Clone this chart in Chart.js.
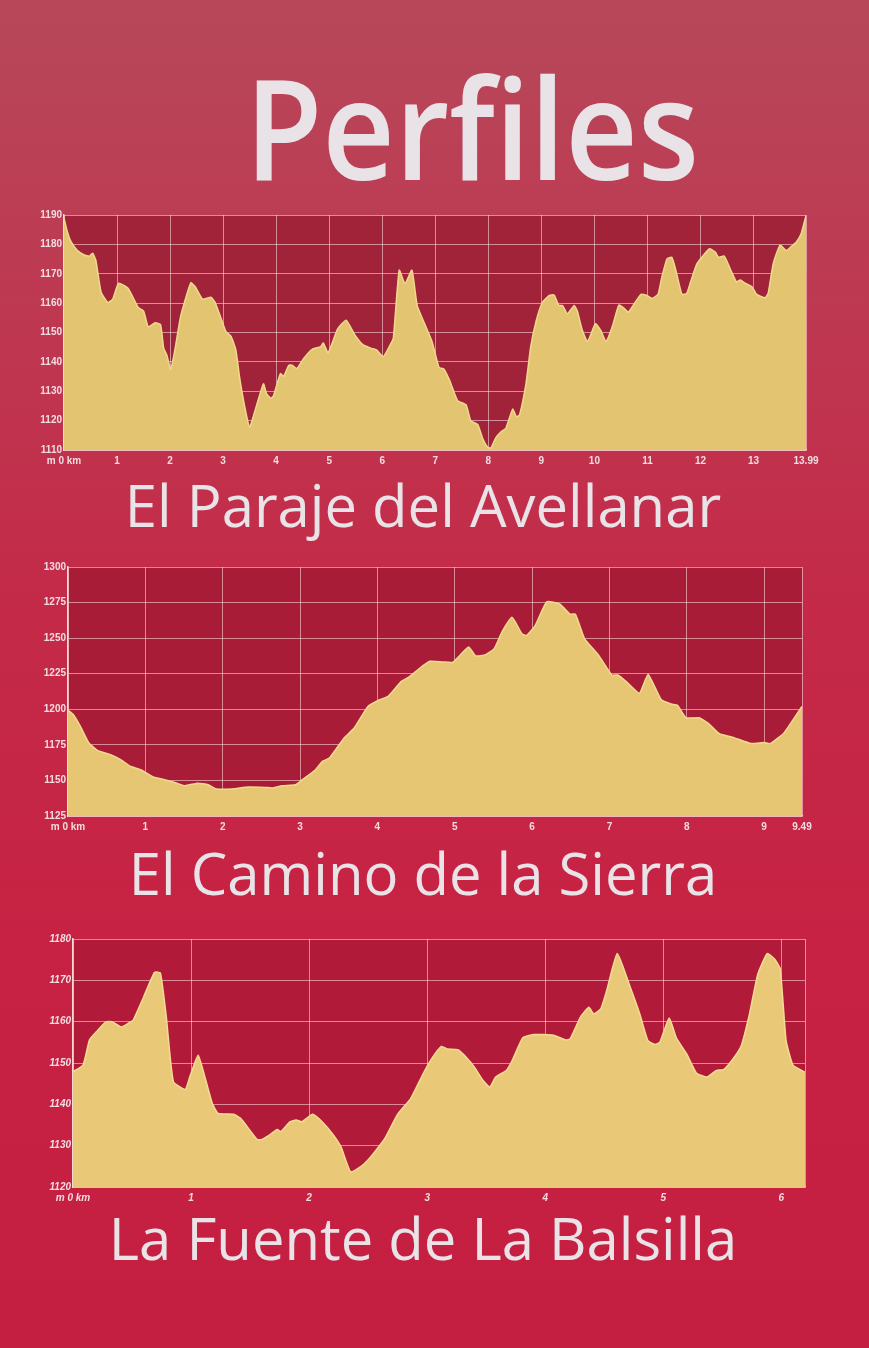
<!DOCTYPE html>
<html>
<head>
<meta charset="utf-8">
<script src="https://cdn.jsdelivr.net/npm/chart.js@4.4.1/dist/chart.umd.min.js"></script>
<style>
  html, body { margin: 0; padding: 0; }
  body {
    width: 869px; height: 1348px; position: relative; overflow: hidden;
    background: linear-gradient(180deg, #b7485a 0%, #bd3a52 20%, #c42a48 45%, #c72243 70%, #c41e40 100%);
    font-family: "Open Sans", "Noto Sans", sans-serif;
  }
  .t { position: absolute; color: #e9e3e8; white-space: nowrap; line-height: 1; font-variant-ligatures: none; }
  #title { font-size: 140px; font-weight: 600; letter-spacing: 0; top: 56px; left: 0; width: 944px; text-align: center; transform: scaleX(0.9); transform-origin: 472px 50%; }
  .sub { font-size: 58px; font-weight: 400; left: 0; width: 846px; text-align: center; }
  canvas { position: absolute; left: 0; }
</style>
</head>
<body>
<div id="title" class="t">Perfiles</div>
<div class="t sub" style="top:476px">El Paraje del Avellanar</div>
<div class="t sub" style="top:844px">El Camino de la Sierra</div>
<div class="t sub" style="top:1209px">La Fuente de La Balsilla</div>

<div style="position:absolute;left:0;top:207px;width:869px;height:265px"><canvas id="c1"></canvas></div>
<div style="position:absolute;left:0;top:559px;width:869px;height:279px"><canvas id="c2"></canvas></div>
<div style="position:absolute;left:0;top:931px;width:869px;height:278px"><canvas id="c3"></canvas></div>

<script>
// ---------- Data: El Paraje del Avellanar ----------
const dist1 = [0,0.06,0.13,0.25,0.38,0.48,0.54,0.6,0.7,0.83,0.92,1.03,1.21,1.4,1.5,1.59,1.72,1.82,1.88,1.94,2.01,2.09,2.2,2.39,2.48,2.61,2.77,2.85,2.99,3.06,3.15,3.24,3.31,3.41,3.5,3.6,3.76,3.82,3.9,3.95,4.08,4.14,4.24,4.3,4.39,4.52,4.68,4.84,4.89,4.98,5.16,5.32,5.48,5.64,5.8,5.89,6.02,6.15,6.21,6.32,6.43,6.56,6.66,6.82,6.94,7.07,7.16,7.27,7.42,7.58,7.67,7.8,7.89,7.99,8.05,8.14,8.24,8.33,8.46,8.53,8.59,8.71,8.8,8.9,9.02,9.15,9.24,9.33,9.4,9.49,9.62,9.68,9.77,9.87,10.02,10.12,10.22,10.34,10.46,10.55,10.64,10.74,10.88,10.99,11.09,11.2,11.27,11.37,11.46,11.53,11.65,11.74,11.81,11.93,12.06,12.17,12.28,12.34,12.45,12.59,12.68,12.75,12.84,12.97,13.06,13.22,13.28,13.37,13.5,13.62,13.72,13.81,13.9,13.99];
const elev1 = [1189,1184.5,1181,1178,1176.4,1176,1177,1174.6,1163.7,1160.2,1161.4,1166.8,1165,1158.5,1157.3,1151.9,1153.3,1152.7,1144.6,1142.3,1137.4,1144,1155.6,1166.9,1165.4,1161.4,1162,1160.2,1153.3,1150.1,1148.7,1144.1,1134.8,1124.5,1117.8,1123.3,1132.5,1129.1,1127.6,1128.5,1136,1135.1,1138.9,1138.9,1137.7,1141.2,1144.3,1145.2,1146.4,1143.1,1151.2,1154.2,1149.3,1145.8,1144.6,1144.1,1141.8,1145.8,1148.1,1171.2,1166.6,1171.2,1159.1,1152.1,1146.9,1138.1,1137.6,1133.7,1126.8,1125.4,1119.9,1118.7,1114.1,1110.9,1110.7,1114.1,1116.2,1117.4,1123.9,1121.3,1122,1132.5,1145.2,1153.8,1160.3,1162.6,1162.8,1159.2,1159.2,1156.4,1159.2,1157.2,1150.9,1146.9,1153,1150.7,1146.9,1152.1,1159.3,1158.4,1156.9,1159.5,1163,1162.6,1161.6,1163,1168.7,1175.1,1175.6,1171.6,1163,1163.3,1167,1173.3,1176.4,1178.5,1177.4,1175.6,1176,1170.5,1167.2,1167.9,1166.8,1165.6,1163,1161.8,1163.6,1173.3,1179.7,1177.9,1179.4,1180.8,1183.7,1189.8];
const xTicks1 = [0,1,2,3,4,5,6,7,8,9,10,11,12,13,13.99];
const xLabels1 = ["m 0 km","1","2","3","4","5","6","7","8","9","10","11","12","13","13.99"];
const yRange1 = [1110, 1190, 10];

// ---------- Data: El Camino de la Sierra ----------
const dist2 = [0,0.07,0.16,0.27,0.38,0.55,0.68,0.81,0.94,1.1,1.25,1.38,1.51,1.68,1.81,1.92,2.12,2.33,2.55,2.64,2.77,2.94,3.03,3.2,3.29,3.38,3.57,3.7,3.88,4.03,4.14,4.31,4.42,4.55,4.68,4.84,4.97,5.06,5.18,5.27,5.4,5.51,5.61,5.74,5.87,5.93,6.04,6.19,6.36,6.49,6.56,6.68,6.86,7.03,7.11,7.24,7.39,7.5,7.67,7.8,7.88,7.99,8.16,8.27,8.42,8.61,8.83,9.0,9.08,9.26,9.49];
const elev2 = [1199.3,1196.2,1188,1176.3,1171.1,1168,1164.6,1159.9,1157.5,1152.4,1150.5,1148.6,1146.3,1148.1,1147,1144,1144,1145.4,1145.1,1144.7,1146.3,1147,1150.5,1157.5,1163.4,1165.7,1179.8,1186.8,1202.1,1206.7,1209.1,1219.6,1223.1,1229,1233.7,1233.3,1232.9,1237.5,1243.8,1237.5,1238.4,1242.6,1254.2,1264.6,1253,1251.9,1258.8,1275.5,1273.8,1266.9,1266.9,1249.5,1238,1224.1,1224.1,1218.3,1211.3,1224.5,1206.7,1203.7,1202.8,1194,1194,1190.5,1182.9,1180.1,1175.9,1176.6,1175.9,1183.6,1202.1];
const xTicks2 = [0,1,2,3,4,5,6,7,8,9,9.49];
const xLabels2 = ["m 0 km","1","2","3","4","5","6","7","8","9","9.49"];
const yRange2 = [1125, 1300, 25];

// ---------- Data: La Fuente de La Balsilla ----------
const dist3 = [0,0.085,0.14,0.2,0.28,0.33,0.41,0.48,0.51,0.6,0.69,0.74,0.79,0.85,0.95,0.99,1.06,1.12,1.18,1.23,1.36,1.42,1.56,1.6,1.66,1.73,1.76,1.84,1.89,1.94,2.03,2.11,2.2,2.27,2.35,2.44,2.5,2.55,2.64,2.75,2.86,2.96,3.03,3.12,3.17,3.26,3.33,3.4,3.47,3.53,3.58,3.67,3.72,3.81,3.9,4.07,4.17,4.21,4.3,4.37,4.41,4.47,4.52,4.61,4.72,4.8,4.87,4.93,4.97,5.05,5.11,5.2,5.28,5.37,5.45,5.51,5.59,5.66,5.73,5.8,5.88,5.94,5.99,6.04,6.1,6.2];
const elev3 = [1147.9,1149.5,1155.6,1157.6,1160,1160,1158.7,1159.8,1160.4,1166.1,1171.9,1171.8,1161.2,1145.5,1143.6,1146.7,1151.9,1146.3,1140.2,1137.8,1137.6,1136.6,1131.5,1131.5,1132.5,1133.9,1133.4,1135.8,1136.2,1135.8,1137.6,1135.8,1132.8,1129.7,1123.7,1125,1126.6,1128.3,1131.7,1137.6,1141.4,1147.1,1150.7,1154,1153.4,1153.2,1151.4,1149,1145.9,1144.2,1146.6,1148.2,1150.6,1156.1,1156.9,1156.7,1155.6,1155.8,1161.2,1163.5,1161.9,1163.1,1167.5,1176.5,1168.3,1161.9,1155.4,1154.5,1155,1160.9,1156.1,1152.1,1147.6,1146.6,1148.2,1148.4,1151,1154.2,1161.9,1171.5,1176.5,1175.2,1172.8,1155.4,1149.4,1147.8];
const xTicks3 = [0,1,2,3,4,5,6,6.2];
const xLabels3 = ["m 0 km","1","2","3","4","5","6",""];
const yRange3 = [1120, 1180, 10];

const plotBg = {
  id: 'plotBg',
  beforeDraw(chart, args, opts) {
    const a = chart.chartArea, ctx = chart.ctx;
    ctx.save(); ctx.fillStyle = opts.color; ctx.fillRect(a.left, a.top, a.right - a.left, a.bottom - a.top); ctx.restore();
  }
};

function makeChart(id, dist, elev, xTicks, xLabels, yRange, geo, style) {
  const pts = dist.map((d, i) => ({ x: d, y: elev[i] }));
  const tickFont = { family: 'Liberation Sans, Arial, sans-serif', size: 10, weight: 'bold', style: style.italic ? 'italic' : 'normal' };
  return new Chart(document.getElementById(id), {
    type: 'line',
    data: { datasets: [{
      data: pts, fill: 'start', backgroundColor: style.fill, borderColor: style.line,
      borderWidth: 1.5, pointRadius: 0, tension: 0.15
    }]},
    plugins: [plotBg],
    options: {
      responsive: true, maintainAspectRatio: false, animation: false,
      layout: { padding: { top: 8, right: 869 - geo.right, left: 0, bottom: 0 } },
      plugins: { legend: { display: false }, tooltip: { enabled: false }, plotBg: { color: style.bg } },
      scales: {
        x: {
          type: 'linear', min: 0, max: xTicks[xTicks.length - 1], z: 1,
          afterBuildTicks: s => { s.ticks = xTicks.map(v => ({ value: v })); },
          afterFit: s => { s.height = 22; s.paddingLeft = 0; s.paddingRight = 0; },
          grid: { color: 'rgba(255,232,232,0.55)', lineWidth: 1, drawTicks: false },
          border: { color: 'rgba(255,236,226,0.9)', width: 1.5 },
          ticks: {
            autoSkip: false, maxRotation: 0, padding: 5, color: '#f1dde0', font: tickFont,
            callback: (v) => { const i = xTicks.indexOf(v); return i >= 0 ? xLabels[i] : ''; }
          }
        },
        y: {
          min: yRange[0], max: yRange[1], z: 1,
          afterFit: s => { s.width = geo.left; s.paddingTop = 0; s.paddingBottom = 0; },
          grid: { color: 'rgba(255,232,232,0.55)', lineWidth: 1, drawTicks: false },
          border: { color: 'rgba(255,236,226,0.9)', width: 1.5 },
          ticks: {
            stepSize: yRange[2], padding: 2, color: '#f1dde0', font: tickFont,
            callback: v => String(v)
          }
        }
      }
    }
  });
}

makeChart('c1', dist1, elev1, xTicks1, xLabels1, yRange1, { left: 64, right: 806 }, { fill: '#e3c571', line: '#f0d98e', bg: '#a0233a', italic: false });
makeChart('c2', dist2, elev2, xTicks2, xLabels2, yRange2, { left: 68, right: 802 }, { fill: '#e6c673', line: '#f2da90', bg: '#a81c37', italic: false });
makeChart('c3', dist3, elev3, xTicks3, xLabels3, yRange3, { left: 73, right: 805 }, { fill: '#e9c977', line: '#f4dc94', bg: '#b21a39', italic: true });
</script>
</body>
</html>
